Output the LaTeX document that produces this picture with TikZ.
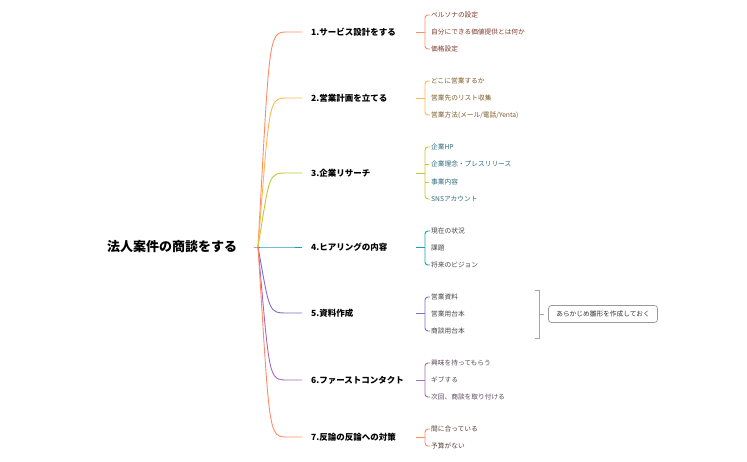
\documentclass[tikz,border=0pt]{standalone}
\usepackage{fontspec}
\setmainfont{Noto Sans CJK JP}
\begin{document}
\begin{tikzpicture}[x=1pt,y=-1pt,
  rootnode/.style={anchor=center,inner sep=0pt,font=\fontsize{13}{13}\selectfont\bfseries},
  branchnode/.style={anchor=west,inner sep=0pt,font=\fontsize{8.5}{9}\selectfont\bfseries},
  leafnode/.style={anchor=west,inner sep=0pt,font=\fontsize{6.7}{7}\selectfont},
  edge/.style={line width=0.9pt}]
\useasboundingbox (0,0) rectangle (747,462);
\definecolor{c1}{HTML}{FF8A65}\definecolor{c2}{HTML}{FFB74D}\definecolor{c3}{HTML}{C0CA33}
\definecolor{c4}{HTML}{1A9EC0}\definecolor{c5}{HTML}{7E6FC8}\definecolor{c6}{HTML}{A569BD}\definecolor{c7}{HTML}{FF8A65}
\definecolor{t1}{HTML}{7A3A2A}\definecolor{t2}{HTML}{7A5A2A}\definecolor{t3}{HTML}{2A6A7A}
\definecolor{t4}{HTML}{444444}\definecolor{t5}{HTML}{444444}\definecolor{t6}{HTML}{5A4A5A}\definecolor{t7}{HTML}{5A4040}
\node[rootnode] (root) at (172,247) {法人案件の商談をする};
\coordinate (hub) at (258,247);
\draw[c1,edge] (254,247) -- (hub);
\foreach \i/\y/\txt in {1/32/1.サービス設計をする,2/98/2.営業計画を立てる,3/173/3.企業リサーチ,4/247/4.ヒアリングの内容,5/313/5.資料作成,6/380/6.ファーストコンタクト,7/437/7.反論の反論への対策}{
  \node[branchnode] (b\i) at (311,\y) {\txt};
  \coordinate (e\i) at (302,\y);
  \draw[c\i,edge] (hub) .. controls (270,\y) and (268,\y) .. (288,\y) -- (e\i);
  \coordinate (s\i) at (416,\y);
  \draw[c\i,edge] (s\i) -- (425,\y);
}
\newcommand\leaves[2]{%
  \foreach \y/\txt [count=\k] in {#2}{
    \node[leafnode,text=t#1] (l#1-\k) at (431,\y) {\txt};
  }}
\leaves{1}{15/ペルソナの設定,32/自分にできる価値提供とは何か,49/価格設定}
\leaves{2}{81/どこに営業するか,98/営業先のリスト収集,115/{営業方法(メール/電話/Yenta)}}
\leaves{3}{147/企業HP,164/企業理念・プレスリリース,182/事業内容,199/SNSアカウント}
\leaves{4}{231/現在の状況,248/課題,265/将来のビジョン}
\leaves{5}{297/営業資料,314/営業用台本,331/商談用台本}
\leaves{6}{363/興味を持ってもらう,380/ギブする,397/次回、商談を取り付ける}
\leaves{7}{429/間に合っている,446/予算がない}
\foreach \i/\a/\b in {1/15/49,2/81/115,3/147/199,4/231/265,5/297/331,6/363/397,7/429/446}{
  \draw[c\i,edge,rounded corners=3pt] (430,\a) -- (425,\a) -- (425,\b) -- (430,\b);
}
\foreach \i/\y in {3/164,3/182}{\draw[c3,edge] (425,\y) -- (429,\y);}
\draw[gray!70,line width=0.9pt] (535,290) -- (539,290) -- (539,338) -- (535,338);
\draw[gray!70,line width=0.9pt] (539,314) -- (544,314);
\node[draw=gray!80,rounded corners=3pt,line width=0.7pt,minimum width=109pt,minimum height=17pt,inner sep=2pt,font=\fontsize{6.7}{7}\selectfont,text=black!80] (note) at (603,314) {あらかじめ雛形を作成しておく};
\end{tikzpicture}
\end{document}
